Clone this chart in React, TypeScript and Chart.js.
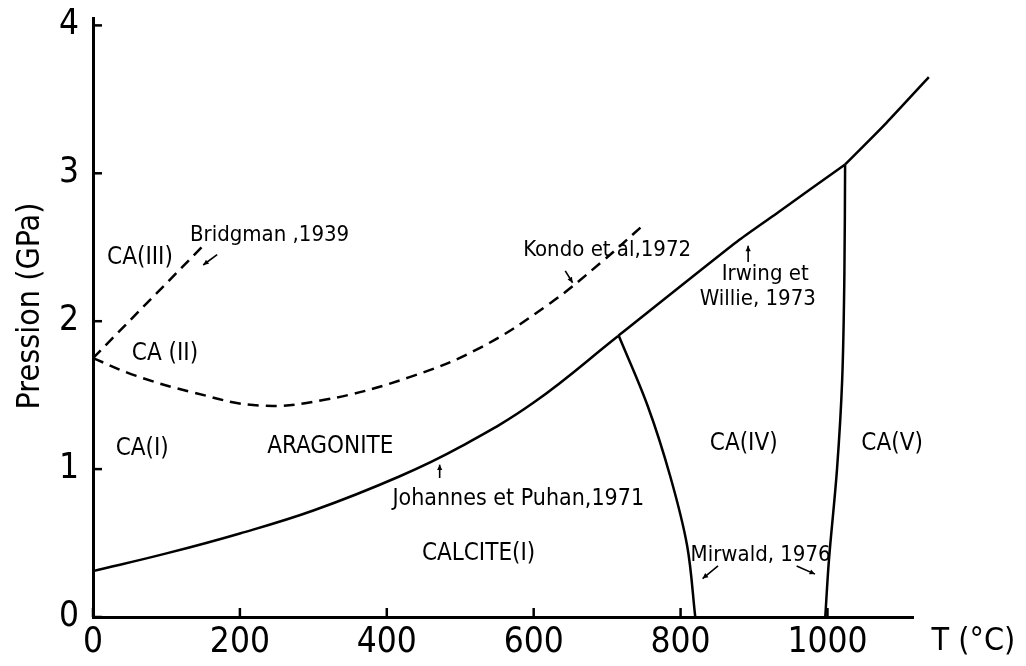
import React, { useEffect, useRef } from 'react';
import { Chart, registerables } from 'chart.js';

Chart.register(...registerables);

// ---- data (T in °C, P in GPa) ----
const xTickValues = [0, 200, 400, 600, 800, 1000];
const yTickValues = [0, 1, 2, 3, 4];

const bridgmanT = [0, 148];
const bridgmanP = [1.75, 2.5];

const kondoT = [0, 59, 135, 226, 317, 430, 527, 622, 690, 747];
const kondoP = [1.75, 1.63, 1.52, 1.43, 1.47, 1.62, 1.82, 2.12, 2.39, 2.64];

const johannesT = [0, 100, 200, 300, 417, 500, 600, 715];
const johannesP = [0.31, 0.43, 0.565, 0.72, 0.95, 1.15, 1.45, 1.9];

const irwingT = [715, 880, 934, 1024];
const irwingP = [1.9, 2.55, 2.74, 3.06];

const upperT = [1024, 1080, 1138];
const upperP = [3.06, 3.34, 3.65];

const caIVT = [716, 755, 786, 809, 820];
const caIVP = [1.9, 1.43, 0.95, 0.48, 0];

const caVT = [1024, 1023, 1020, 1013, 1002, 997];
const caVP = [3.06, 2.3, 1.6, 1.0, 0.385, 0];

// ---- text annotations ----
const labelTexts = [
  'CA(III)', 'Bridgman ,1939', 'CA (II)', 'CA(I)', 'ARAGONITE',
  'Johannes et Puhan,1971', 'CALCITE(I)', 'CA(IV)', 'CA(V)',
  'Mirwald, 1976', 'Kondo et al,1972', 'Irwing et', 'Willie, 1973',
];
const labelT = [64, 132, 98, 67, 323, 579, 525, 886, 1088, 909, 700, 856, 826];
const labelP = [2.43, 2.58, 1.78, 1.14, 1.15, 0.8, 0.43, 1.17, 1.17, 0.42, 2.48, 2.32, 2.15];
const labelAlign = ['center', 'left', 'center', 'center', 'center', 'center', 'center', 'center', 'center', 'center', 'center', 'left', 'left'];
const labelSize = [24, 22, 24, 24, 24, 23, 24, 24, 24, 22, 22, 22, 22];

// ---- small pointer arrows ----
const arrowFromT = [169, 643, 892, 472, 851, 958];
const arrowFromP = [2.45, 2.34, 2.4, 0.94, 0.345, 0.345];
const arrowToT = [150, 653, 892, 472, 830, 983];
const arrowToP = [2.38, 2.26, 2.51, 1.03, 0.26, 0.29];

const FONT = "'DejaVu Sans Condensed', 'DejaVu Sans', sans-serif";

const pts = (t: number[], p: number[]) => t.map((v, i) => ({ x: v, y: p[i] }));

const annotationPlugin = {
  id: 'phaseAnnotations',
  afterDraw(chart: any) {
    const { ctx, chartArea, scales } = chart;
    const xs = scales.x;
    const ys = scales.y;
    ctx.save();
    ctx.strokeStyle = '#000';
    ctx.fillStyle = '#000';

    // inward tick marks
    ctx.lineWidth = 2.5;
    xTickValues.forEach((v) => {
      const px = xs.getPixelForValue(v);
      ctx.beginPath();
      ctx.moveTo(px, chartArea.bottom);
      ctx.lineTo(px, chartArea.bottom - 9);
      ctx.stroke();
    });
    yTickValues.forEach((v) => {
      const py = ys.getPixelForValue(v);
      ctx.beginPath();
      ctx.moveTo(chartArea.left, py);
      ctx.lineTo(chartArea.left + 9, py);
      ctx.stroke();
    });

    // labels
    ctx.textBaseline = 'middle';
    labelTexts.forEach((txt, i) => {
      ctx.font = `${labelSize[i]}px ${FONT}`;
      ctx.textAlign = labelAlign[i] as CanvasTextAlign;
      ctx.fillText(txt, xs.getPixelForValue(labelT[i]), ys.getPixelForValue(labelP[i]));
    });

    // arrows
    ctx.lineWidth = 1.6;
    arrowFromT.forEach((_, i) => {
      const x1 = xs.getPixelForValue(arrowFromT[i]);
      const y1 = ys.getPixelForValue(arrowFromP[i]);
      const x2 = xs.getPixelForValue(arrowToT[i]);
      const y2 = ys.getPixelForValue(arrowToP[i]);
      ctx.beginPath();
      ctx.moveTo(x1, y1);
      ctx.lineTo(x2, y2);
      ctx.stroke();
      const a = Math.atan2(y2 - y1, x2 - x1);
      const h = 6;
      ctx.beginPath();
      ctx.moveTo(x2, y2);
      ctx.lineTo(x2 - h * Math.cos(a - 0.45), y2 - h * Math.sin(a - 0.45));
      ctx.lineTo(x2 - h * Math.cos(a + 0.45), y2 - h * Math.sin(a + 0.45));
      ctx.closePath();
      ctx.fill();
    });

    // axis titles
    ctx.font = `32px ${FONT}`;
    ctx.textAlign = 'center';
    ctx.textBaseline = 'middle';
    ctx.fillText('T (°C)', chartArea.right + 60, chartArea.bottom + 25);

    ctx.save();
    ctx.translate(31, 306);
    ctx.rotate(-Math.PI / 2);
    ctx.font = `32px ${FONT}`;
    ctx.fillText('Pression (GPa)', 0, 0);
    ctx.restore();

    ctx.restore();
  },
};

export default function App() {
  const canvasRef = useRef<HTMLCanvasElement | null>(null);

  useEffect(() => {
    if (!canvasRef.current) return;
    const solid = (t: number[], p: number[], tension = 0.4) => ({
      data: pts(t, p),
      showLine: true,
      borderColor: '#000',
      borderWidth: 2.5,
      pointRadius: 0,
      tension,
      clip: false as any,
      fill: false,
    });
    const dashed = (t: number[], p: number[], tension = 0.4) => ({
      ...solid(t, p, tension),
      borderDash: [11, 7],
    });

    const chart = new Chart(canvasRef.current, {
      type: 'scatter',
      data: {
        datasets: [
          dashed(bridgmanT, bridgmanP, 0),
          dashed(kondoT, kondoP),
          solid(johannesT, johannesP),
          solid(irwingT, irwingP, 0.2),
          solid(upperT, upperP, 0.2),
          solid(caIVT, caIVP, 0.35),
          solid(caVT, caVP, 0.35),
        ],
      },
      options: {
        animation: false,
        responsive: false,
        devicePixelRatio: 1,
        layout: { padding: { top: 18, right: 112.6, left: 0, bottom: 0 } },
        plugins: {
          legend: { display: false },
          tooltip: { enabled: false },
        },
        scales: {
          x: {
            type: 'linear',
            min: 0,
            max: 1117,
            grid: { display: false, drawTicks: false },
            border: { display: true, color: '#000', width: 3 },
            afterBuildTicks: (s: any) => {
              s.ticks = xTickValues.map((v) => ({ value: v }));
            },
            ticks: {
              color: '#000',
              font: { family: FONT, size: 35 },
              padding: 5,
              maxRotation: 0,
              autoSkip: false,
              callback: (v: any) => String(v),
            },
            afterFit: (s: any) => {
              s.height = 49;
              s.paddingLeft = 0;
              s.paddingRight = 0;
            },
          },
          y: {
            type: 'linear',
            min: 0,
            max: 4.05,
            grid: { display: false, drawTicks: false },
            border: { display: true, color: '#000', width: 3 },
            afterBuildTicks: (s: any) => {
              s.ticks = yTickValues.map((v) => ({ value: v }));
            },
            ticks: {
              color: '#000',
              font: { family: FONT, size: 35 },
              padding: 14,
              autoSkip: false,
              callback: (v: any) => String(v),
            },
            afterFit: (s: any) => {
              s.width = 93;
              s.paddingTop = 0;
              s.paddingBottom = 0;
            },
          },
        },
      },
      plugins: [annotationPlugin],
    } as any);

    return () => chart.destroy();
  }, []);

  return (
    <div style={{ position: 'absolute', left: 0, top: 0, width: 1026, height: 666, background: '#fff' }}>
      <canvas ref={canvasRef} width={1026} height={666} style={{ display: 'block' }} />
    </div>
  );
}
